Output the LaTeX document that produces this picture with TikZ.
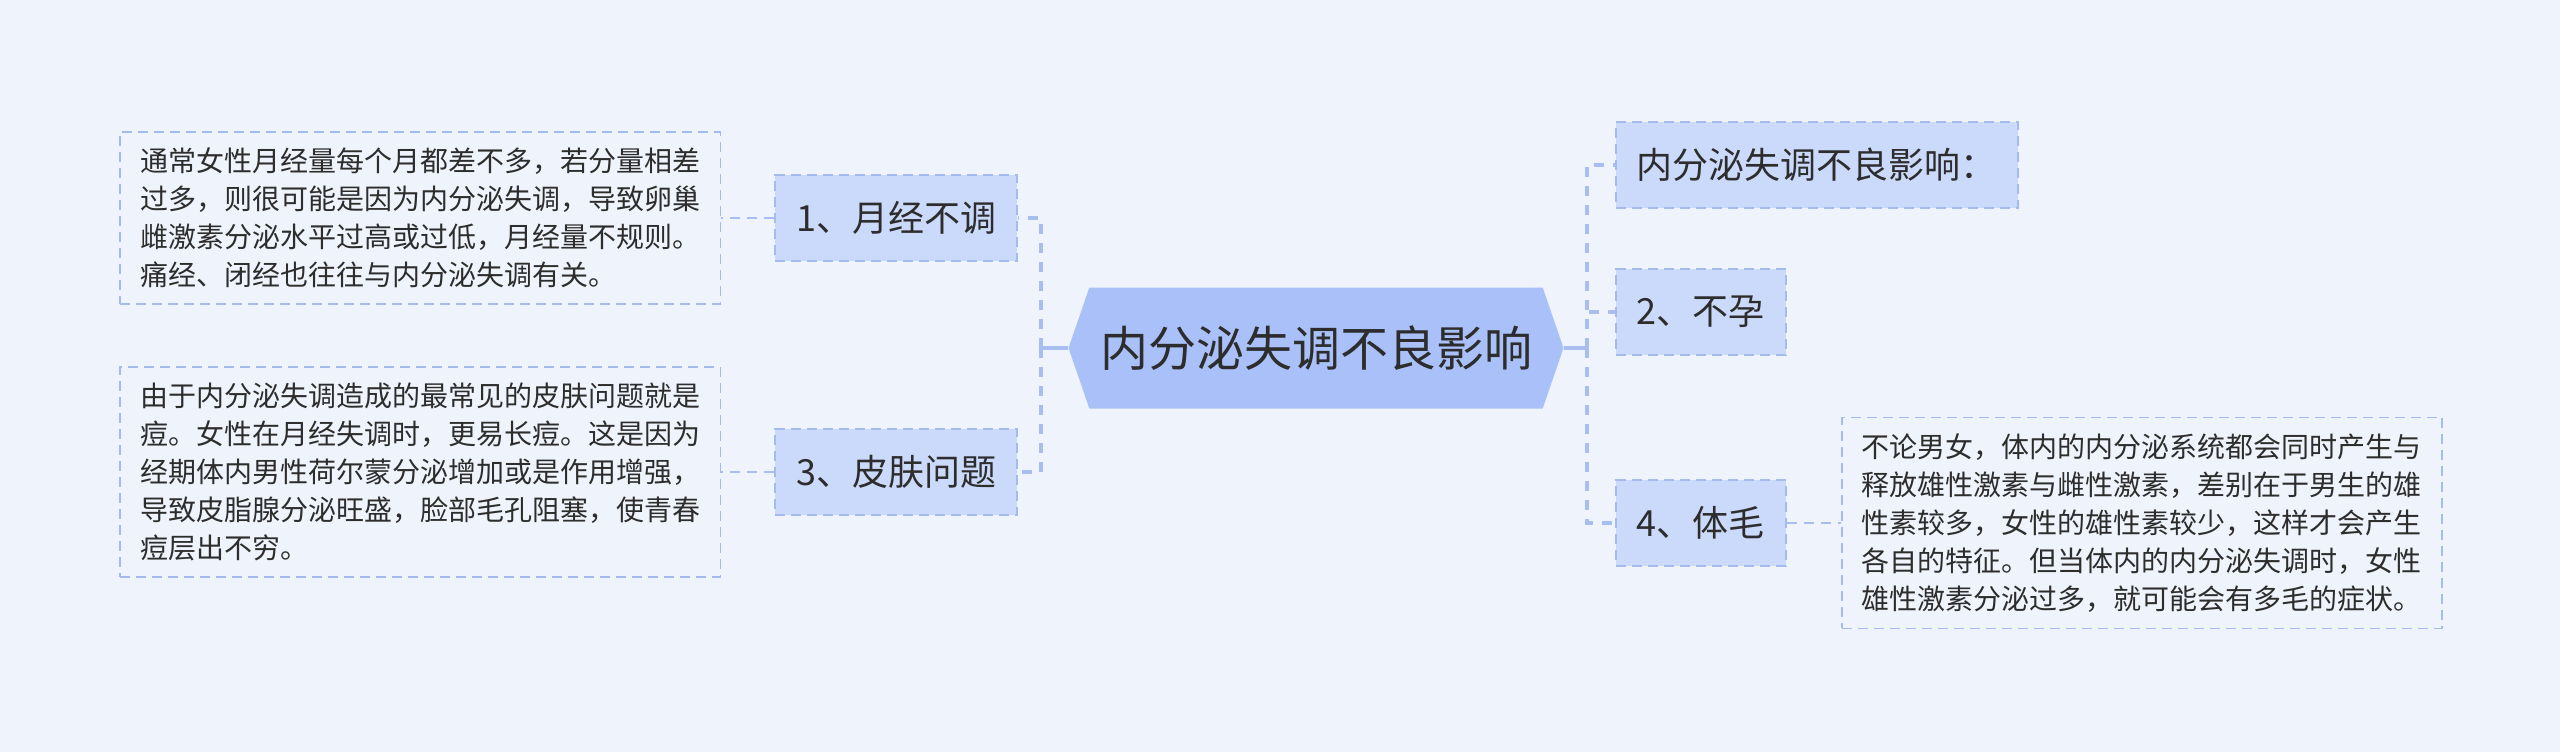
\documentclass[tikz,border=0pt]{standalone}
\usepackage{fontspec}
\setmainfont{Noto Sans CJK SC}
\usepackage{xcolor}
\usetikzlibrary{positioning, shapes.symbols}
\definecolor{bgc}{RGB}{239,243,251}
\definecolor{rootc}{RGB}{169,193,248}
\definecolor{subc}{RGB}{203,218,250}
\definecolor{edge}{RGB}{165,187,238}
\definecolor{wire}{RGB}{168,190,240}
\definecolor{txt}{RGB}{45,45,45}

\begin{document}
\begin{tikzpicture}[
    node distance=25pt,
    root/.style={signal, signal to=west and east, signal pointer angle=142, fill=rootc, minimum width=247.5pt, minimum height=60.5pt, text=txt, font=\fontsize{24pt}{28pt}\selectfont},
    topic/.style={draw=edge, line width=1pt, dash pattern=on 5pt off 3pt, fill=subc, minimum height=43pt, inner xsep=10.5pt, text=txt, font=\fontsize{18pt}{22pt}\selectfont},
    note/.style={draw=edge, line width=0.8pt, dash pattern=on 5pt off 3pt, fill=bgc, inner xsep=10pt, inner ysep=8pt, align=left, text=txt, font=\fontsize{14pt}{19pt}\selectfont},
    trunk/.style={draw=wire, line width=1.6pt},
    branch/.style={draw=wire, line width=1.6pt, dash pattern=on 5pt off 4.5pt},
    twig/.style={draw=wire, line width=1pt, dash pattern=on 5pt off 3.5pt}
]
\fill[bgc] (0pt,0pt) rectangle (1280pt,-376pt);
\useasboundingbox (0pt,0pt) rectangle (1280pt,-376pt);

\node[root] (root) at (658pt,-174pt) {内分泌失调不良影响};

\node[topic, left=25pt of root, yshift=65pt] (l1) {1、月经不调};
\node[topic, left=25pt of root, yshift=-62pt] (l3) {3、皮肤问题};
\node[note, left=26.5pt of l1] (t1) {通常女性月经量每个月都差不多，若分量相差\\过多，则很可能是因为内分泌失调，导致卵巢\\雌激素分泌水平过高或过低，月经量不规则。\\痛经、闭经也往往与内分泌失调有关。};
\node[note, left=26.5pt of l3] (t3) {由于内分泌失调造成的最常见的皮肤问题就是\\痘。女性在月经失调时，更易长痘。这是因为\\经期体内男性荷尔蒙分泌增加或是作用增强，\\导致皮脂腺分泌旺盛，脸部毛孔阻塞，使青春\\痘层出不穷。};

\node[topic, right=25.5pt of root, yshift=91.5pt] (r1) {内分泌失调不良影响：};
\node[topic, right=25.5pt of root, yshift=18pt] (r2) {2、不孕};
\node[topic, right=25.5pt of root, yshift=-87.5pt] (r4) {4、体毛};
\node[note, right=27pt of r4] (t4) {不论男女，体内的内分泌系统都会同时产生与\\释放雄性激素与雌性激素，差别在于男生的雄\\性素较多，女性的雄性素较少，这样才会产生\\各自的特征。但当体内的内分泌失调时，女性\\雄性激素分泌过多，就可能会有多毛的症状。};

\coordinate (lj) at ([xshift=-13.5pt]root.west);
\coordinate (rj) at ([xshift=11.5pt]root.east);
\draw[trunk] (root.west) -- (lj);
\draw[branch] (lj) |- (l1.east);
\draw[branch] (lj) |- (l3.east);
\draw[trunk] (root.east) -- (rj);
\draw[branch] (rj) |- (r1.west);
\draw[branch] (rj) |- (r2.west);
\draw[branch] (rj) |- (r4.west);

\draw[twig] (l1.west) -- (t1.east);
\draw[twig] (l3.west) -- (t3.east);
\draw[twig] (r4.east) -- (t4.west);
\end{tikzpicture}
\end{document}
